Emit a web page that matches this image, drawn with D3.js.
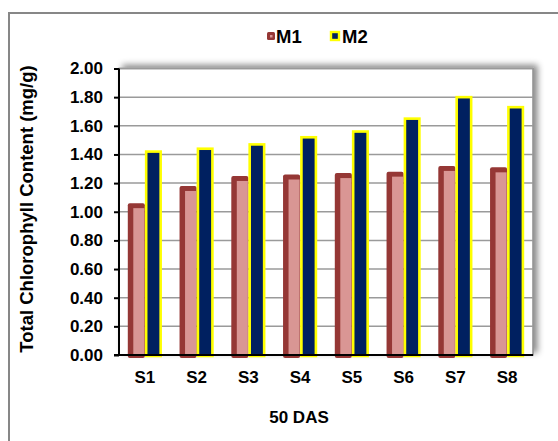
<!DOCTYPE html>
<html>
<head>
<meta charset="utf-8">
<script src="https://cdn.jsdelivr.net/npm/d3@7"></script>
<style>
  html, body { margin: 0; padding: 0; background: #fff; }
  svg { display: block; }
  text { font-family: "Liberation Sans", Arial, sans-serif; font-weight: bold; fill: #000; }
</style>
</head>
<body>
<svg id="chart" width="558" height="441"></svg>
<script>
// Total chlorophyll content at 50 DAS
const categories = ["S1", "S2", "S3", "S4", "S5", "S6", "S7", "S8"];
const seriesNames = ["M1", "M2"];
const m1Values = [1.06, 1.18, 1.25, 1.26, 1.27, 1.28, 1.32, 1.31];
const m2Values = [1.42, 1.44, 1.47, 1.52, 1.56, 1.65, 1.80, 1.73];
const yTicks = [0, 0.2, 0.4, 0.6, 0.8, 1.0, 1.2, 1.4, 1.6, 1.8, 2.0];

const rows = categories.map((c, i) => ({ cat: c, M1: m1Values[i], M2: m2Values[i] }));

const svg = d3.select("#chart");
const plot = { left: 119, right: 533, top: 68.5, bottom: 355 };

// Soft shadow behind the plot area
const defs = svg.append("defs");
const f = defs.append("filter").attr("id", "plotShadow")
  .attr("x", "-10%").attr("y", "-10%").attr("width", "120%").attr("height", "120%");
f.append("feDropShadow").attr("dx", 4).attr("dy", -3).attr("stdDeviation", 3)
  .attr("flood-color", "#000").attr("flood-opacity", 0.45);

// Outer chart frame
svg.append("rect").attr("x", 9).attr("y", 13).attr("width", 600).attr("height", 500)
  .attr("fill", "#fff").attr("stroke", "#878787").attr("stroke-width", 2);

// Plot area
svg.append("rect")
  .attr("x", plot.left).attr("y", plot.top)
  .attr("width", plot.right - plot.left).attr("height", plot.bottom - plot.top)
  .attr("fill", "#fff").attr("stroke", "#8c8c8c").attr("stroke-width", 1.5)
  .attr("filter", "url(#plotShadow)");

const x0 = d3.scaleBand().domain(categories)
  .range([plot.left, plot.right]).paddingInner(0.34).paddingOuter(0.17);
const x1 = d3.scaleBand().domain(seriesNames).range([0, x0.bandwidth()]).padding(0);
const y = d3.scaleLinear().domain([0, 2]).range([plot.bottom, plot.top]);

// Horizontal gridlines
svg.append("g").selectAll("line").data(yTicks.filter(t => t > 0)).join("line")
  .attr("x1", plot.left).attr("x2", plot.right)
  .attr("y1", d => y(d)).attr("y2", d => y(d))
  .attr("stroke", "#9a9a9a").attr("stroke-width", 1.5);

// Bars
const groups = svg.append("g").selectAll("g").data(rows).join("g")
  .attr("transform", d => `translate(${x0(d.cat)},0)`);

const bw = x1.bandwidth();
// M1: dark red shell with a lighter face
groups.append("rect")
  .attr("x", x1("M1")).attr("y", d => y(d.M1))
  .attr("width", bw).attr("height", d => y(0) - y(d.M1) + 3)
  .attr("rx", 2).attr("fill", "#953735");
groups.append("rect")
  .attr("x", x1("M1") + 5.5).attr("y", d => y(d.M1) + 5)
  .attr("width", bw - 6).attr("height", d => y(0) - y(d.M1) - 5)
  .attr("fill", "#d99694");
// M2: navy with yellow outline
groups.append("rect")
  .attr("x", x1("M2") + 1.3).attr("y", d => y(d.M2))
  .attr("width", bw - 2.6).attr("height", d => y(0) - y(d.M2) + 1)
  .attr("fill", "#002060").attr("stroke", "#ffff00").attr("stroke-width", 2.6);

// Axes
const yAxis = d3.axisLeft(y).tickValues(yTicks).tickFormat(d3.format(".2f"))
  .tickSize(5).tickPadding(11);
const gy = svg.append("g").attr("transform", `translate(${plot.left},0)`).call(yAxis);
gy.select(".domain").attr("stroke", "#000").attr("stroke-width", 2)
  .attr("d", `M0,${plot.top}V${plot.bottom}`);
gy.selectAll(".tick line").attr("stroke", "#000").attr("stroke-width", 2);
gy.selectAll(".tick text").style("font-size", "17px").attr("font-family", null).attr("fill", "#000");

const xAxis = d3.axisBottom(x0).tickSize(0).tickPadding(16);
const gx = svg.append("g").attr("transform", `translate(0,${plot.bottom})`).call(xAxis);
gx.select(".domain").attr("stroke", "#000").attr("stroke-width", 2)
  .attr("d", `M${plot.left - 5},0H${plot.right}`);
gx.selectAll(".tick text").style("font-size", "17px").attr("font-family", null).attr("fill", "#000");

// Axis titles
svg.append("text").attr("x", 299).attr("y", 417).attr("text-anchor", "middle")
  .attr("dominant-baseline", "central").style("font-size", "17px").text("50 DAS");
svg.append("text").attr("transform", "translate(26,209) rotate(-90)")
  .attr("text-anchor", "middle").attr("dominant-baseline", "central")
  .style("font-size", "18.5px").text("Total Chlorophyll Content (mg/g)");

// Legend
const legend = svg.append("g");
const lg1 = legend.append("g").attr("transform", "translate(267,32)");
lg1.append("rect").attr("width", 8).attr("height", 8).attr("rx", 1.5).attr("fill", "#953735");
lg1.append("rect").attr("x", 3).attr("y", 3).attr("width", 2.5).attr("height", 2.5).attr("fill", "#d99694");
lg1.append("text").attr("x", 9).attr("y", 4).attr("dominant-baseline", "central")
  .style("font-size", "18.5px").text("M1");
const lg2 = legend.append("g").attr("transform", "translate(331,32)");
lg2.append("rect").attr("width", 8).attr("height", 8).attr("fill", "#002060")
  .attr("stroke", "#ffff00").attr("stroke-width", 2.4);
lg2.append("text").attr("x", 11).attr("y", 4).attr("dominant-baseline", "central")
  .style("font-size", "18.5px").text("M2");
</script>
</body>
</html>
